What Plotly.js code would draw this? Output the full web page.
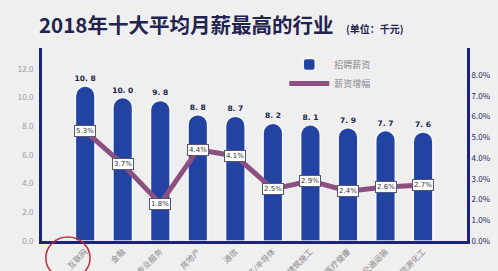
<!DOCTYPE html>
<html><head><meta charset="utf-8">
<script src="https://cdn.plot.ly/plotly-3.0.1.min.js"></script>
<style>html,body{margin:0;padding:0;background:#efefef;}#c{width:498px;height:271px;}</style>
</head><body><div id="c"></div>
<script>
const categories = ['互联网','金融','专业服务','房地产','通信','电子/半导体','建筑施工','医疗健康','交通运输','能源化工'];
const salary = [10.8, 10.0, 9.8, 8.8, 8.7, 8.2, 8.1, 7.9, 7.7, 7.6];
const growth = [5.3, 3.7, 1.8, 4.4, 4.1, 2.5, 2.9, 2.4, 2.6, 2.7];
const salaryLabels = ['10. 8','10. 0','9. 8','8. 8','8. 7','8. 2','8. 1','7. 9','7. 7','7. 6'];
const leftTicks = [0,2,4,6,8,10,12];
const rightTicks = [0,1,2,3,4,5,6,7,8];

const bar = {
  type:'bar', name:'招聘薪资', x:categories, y:salary,
  text:salaryLabels, textposition:'outside', cliponaxis:false, constraintext:'none',
  textfont:{family:'DejaVu Sans', size:7.5, color:'#1a1f4a', weight:'bold'},
  marker:{color:'#2343a3', cornerradius:10, line:{color:'rgba(255,255,255,0.9)', width:1.5}},
  width:0.52
};
const line = {
  type:'scatter', mode:'lines', name:'薪资增幅', x:categories, y:growth, yaxis:'y2',
  line:{color:'#8d4e80', width:5}
};
const annotations = growth.map((g,i)=>({
  x:categories[i], y:g, yref:'y2', xref:'x', text:g.toFixed(1)+'%', showarrow:false,
  font:{family:'DejaVu Sans', size:7, color:'#333'}, bgcolor:'#ffffff',
  bordercolor:'#555577', borderwidth:1, borderpad:1
}));
annotations.push({xref:'paper', yref:'paper', x:-0.012, y:1.124, xanchor:'left', yanchor:'middle',
  text:'<b>2018年十大平均月薪最高的行业</b>', showarrow:false,
  font:{family:'Noto Sans CJK SC', size:20.5, color:'#22234e'}});
annotations.push({xref:'paper', yref:'paper', x:0.71, y:1.10, xanchor:'left', yanchor:'middle',
  text:'<b>(单位：千元)</b>', showarrow:false,
  font:{family:'Noto Sans CJK SC', size:10, color:'#22234e'}});

const layout = {
  width:498, height:271,
  margin:{l:42, r:31, t:48, b:30},
  paper_bgcolor:'#efefef', plot_bgcolor:'rgba(0,0,0,0)',
  font:{family:'Noto Sans CJK SC'},
  showlegend:true,
  legend:{x:0.57, y:0.99, xanchor:'left', yanchor:'top', bgcolor:'rgba(0,0,0,0)',
    font:{size:9, color:'#888'}, itemwidth:40, tracegroupgap:4},
  xaxis:{range:[-1.15,10.17], tickangle:-45, automargin:false, showgrid:false,
    showline:true, linecolor:'#1c2378', linewidth:3,
    tickfont:{size:8, color:'#888'}, ticks:''},
  yaxis:{range:[0,13.45], tickvals:leftTicks, ticktext:leftTicks.map(v=>v.toFixed(1)),
    showgrid:false, zeroline:false, showline:true, linecolor:'#1c2378', linewidth:3,
    tickfont:{size:8, color:'#999'}, automargin:false, ticks:'', ticklabelstandoff:4},
  yaxis2:{range:[0,9.3], overlaying:'y', side:'right', tickvals:rightTicks,
    ticktext:rightTicks.map(v=>v.toFixed(1)+'%'), showgrid:false, zeroline:false,
    showline:true, linecolor:'#1c2378', linewidth:3,
    tickfont:{size:8, color:'#22285a'}, automargin:false, ticks:''},
  annotations:annotations,
  shapes:[{type:'circle', xref:'paper', yref:'paper', x0:0.009, x1:0.113, y0:-0.197, y1:0.021,
    line:{color:'#c0303a', width:1.5}}]
};
Plotly.newPlot('c',[bar,line],layout,{displayModeBar:false, staticPlot:true});
</script></body></html>
